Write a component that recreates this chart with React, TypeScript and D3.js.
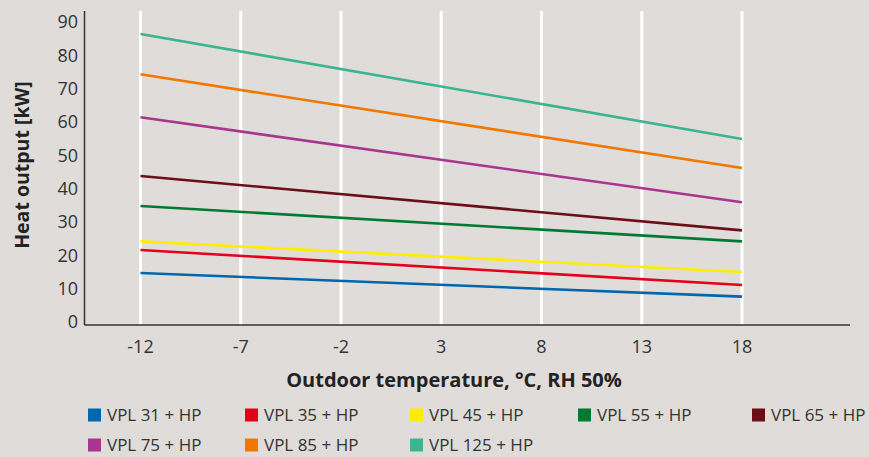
import React from "react";
import * as d3 from "d3";

const temps = [-12, 18];
const xTicks = [-12, -7, -2, 3, 8, 13, 18];
const yTicks = [0, 10, 20, 30, 40, 50, 60, 70, 80, 90];
const seriesNames = [
  "VPL 31 + HP",
  "VPL 35 + HP",
  "VPL 45 + HP",
  "VPL 55 + HP",
  "VPL 65 + HP",
  "VPL 75 + HP",
  "VPL 85 + HP",
  "VPL 125 + HP",
];
const vpl31 = [14.7, 7.6];
const vpl35 = [21.6, 11.1];
const vpl45 = [24.2, 15.0];
const vpl55 = [34.8, 24.2];
const vpl65 = [43.8, 27.5];
const vpl75 = [61.4, 35.9];
const vpl85 = [74.3, 46.2];
const vpl125 = [86.4, 54.9];
const seriesValues = [vpl31, vpl35, vpl45, vpl55, vpl65, vpl75, vpl85, vpl125];
const colors = ["#0066ad", "#e2001a", "#ffed00", "#007a33", "#6b0f17", "#a8358f", "#f07800", "#3cb393"];

const W = 869;
const H = 457;
const FONT = "'Open Sans', 'Noto Sans', sans-serif";

export default function App() {
  const x = d3.scaleLinear().domain([-12, 18]).range([140.5, 742]);
  const y = d3.scaleLinear().domain([0, 90]).range([322, 22]);
  const axisLeft = 84.5;
  const axisRight = 850;
  const axisBottom = 325;
  const top = 11;
  const line = d3
    .line<[number, number]>()
    .x((d) => x(d[0]))
    .y((d) => y(d[1]));

  const legendCols = [88, 245, 410, 578, 752];
  const legendRows = [415, 445];

  return (
    <svg
      width={W}
      height={H}
      style={{ position: "absolute", left: 0, top: 0, background: "#e0dcd9" }}
      fontFamily={FONT}
    >
      <rect x={0} y={0} width={W} height={H} fill="#e0dcd9" />
      {xTicks.map((t) => (
        <line key={"g" + t} x1={x(t)} x2={x(t)} y1={top} y2={axisBottom} stroke="#ffffff" strokeWidth={3} />
      ))}
      <line x1={axisLeft} x2={axisLeft} y1={top} y2={axisBottom} stroke="#333" strokeWidth={1.5} />
      <line x1={axisLeft} x2={axisRight} y1={axisBottom} y2={axisBottom} stroke="#333" strokeWidth={1.5} />
      {yTicks.map((t) => (
        <text key={"y" + t} x={78} y={y(t)} dy="0.35em" textAnchor="end" fontSize={18} fill="#333">
          {t}
        </text>
      ))}
      {xTicks.map((t) => (
        <text key={"x" + t} x={x(t)} y={347} dy="0.35em" textAnchor="middle" fontSize={18} fill="#333">
          {t}
        </text>
      ))}
      {seriesValues.map((vals, i) => (
        <path
          key={seriesNames[i]}
          d={line(temps.map((t, j) => [t, vals[j]] as [number, number])) || ""}
          fill="none"
          stroke={colors[i]}
          strokeWidth={2.6}
        />
      ))}
      <text
        transform="translate(22,165) rotate(-90)"
        textAnchor="middle"
        dy="0.35em"
        fontSize={19.5}
        fontWeight="bold"
        fill="#222"
      >
        Heat output [kW]
      </text>
      <text x={454} y={380} dy="0.35em" textAnchor="middle" fontSize={20} fontWeight="bold" fill="#222">
        Outdoor temperature, °C, RH 50%
      </text>
      {seriesNames.map((name, i) => {
        const cx = legendCols[i % 5];
        const cy = legendRows[Math.floor(i / 5)];
        return (
          <g key={"l" + name}>
            <rect x={cx} y={cy - 6.5} width={13} height={13} fill={colors[i]} />
            <text x={cx + 19} y={cy} dy="0.35em" fontSize={17} fill="#333">
              {name}
            </text>
          </g>
        );
      })}
    </svg>
  );
}
